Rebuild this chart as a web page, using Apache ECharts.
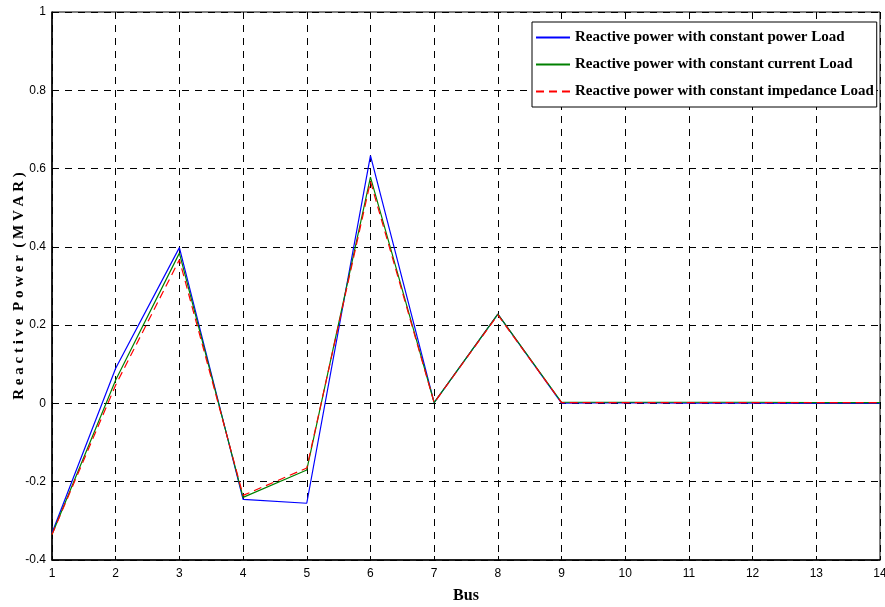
<!DOCTYPE html>
<html>
<head>
<meta charset="utf-8">
<script src="https://cdn.jsdelivr.net/npm/echarts@6/dist/echarts.min.js"></script>
<style>
html, body { margin: 0; padding: 0; background: #fff; }
#chart { width: 885px; height: 607px; }
</style>
</head>
<body>
<div id="chart"></div>
<script>
// bus numbers on x axis
const buses = [1, 2, 3, 4, 5, 6, 7, 8, 9, 10, 11, 12, 13, 14];

// reactive power per bus (MVAR)
const constPower = [-0.331, 0.09, 0.398, -0.245, -0.255, 0.633, 0.002, 0.228, 0.001, 0.002, 0.001, 0.001, 0.000, 0.000];
const constCurrent = [-0.335, 0.06, 0.384, -0.24, -0.17, 0.578, 0.002, 0.228, 0.003, 0.003, 0.003, 0.003, 0.002, 0.002];
const constImpedance = [-0.335, 0.047, 0.367, -0.235, -0.165, 0.567, 0.002, 0.226, 0.002, 0.002, 0.002, 0.002, 0.002, 0.002];

const names = [
    'Reactive power with constant power Load',
    'Reactive power with constant current Load',
    'Reactive power with constant impedance Load'
];

const pairs = function (values) {
    return buses.map(function (b, i) { return [b, values[i]]; });
};

const chart = echarts.init(document.getElementById('chart'));

const tickFont = {
    fontFamily: '"Liberation Sans Narrow", "Liberation Sans", Arial, sans-serif',
    fontSize: 12,
    color: '#000'
};

const titleFont = {
    fontFamily: '"Liberation Serif", "Times New Roman", serif',
    fontWeight: 'bold',
    fontSize: 16,
    color: '#000'
};

chart.setOption({
    animation: false,
    grid: {
        left: 52,
        right: 5,
        top: 12,
        bottom: 47,
        outerBoundsMode: 'none',
        show: true,
        borderColor: '#000',
        borderWidth: 1
    },
    legend: {
        orient: 'vertical',
        left: 532,
        top: 22,
        itemWidth: 34,
        itemHeight: 14,
        itemGap: 12,
        padding: [8, 3, 8, 3],
        borderColor: '#000',
        borderWidth: 1,
        backgroundColor: '#fff',
        itemStyle: { opacity: 0 },
        textStyle: {
            fontFamily: '"Liberation Serif", "Times New Roman", serif',
            fontWeight: 'bold',
            fontSize: 15,
            color: '#000'
        },
        data: names
    },
    xAxis: {
        type: 'value',
        min: 1,
        max: 14,
        interval: 1,
        name: 'Bus',
        nameLocation: 'middle',
        nameGap: 28,
        nameMoveOverlap: false,
        nameTextStyle: titleFont,
        axisLine: { onZero: false, lineStyle: { color: '#000', width: 1.5 } },
        axisTick: { inside: true, length: 4, lineStyle: { color: '#000' } },
        axisLabel: tickFont,
        splitLine: { show: true, lineStyle: { color: '#000', type: [7, 6], width: 1 } }
    },
    yAxis: {
        type: 'value',
        min: -0.4,
        max: 1,
        interval: 0.2,
        name: 'R e a c t i v e  P o w e r  ( M V A R )',
        nameLocation: 'middle',
        nameGap: 25,
        nameMoveOverlap: false,
        nameTextStyle: Object.assign({}, titleFont, { fontSize: 15 }),
        axisLine: { onZero: false, lineStyle: { color: '#000', width: 1.5 } },
        axisTick: { inside: true, length: 4, lineStyle: { color: '#000' } },
        axisLabel: Object.assign({ margin: 6 }, tickFont),
        splitLine: { show: true, lineStyle: { color: '#000', type: [7, 6], width: 1 } }
    },
    series: [
        {
            name: names[0],
            type: 'line',
            symbol: 'none',
            data: pairs(constPower),
            lineStyle: { color: '#0000ff', width: 1.2 },
            itemStyle: { color: '#0000ff' },
            z: 3
        },
        {
            name: names[1],
            type: 'line',
            symbol: 'none',
            data: pairs(constCurrent),
            lineStyle: { color: '#008000', width: 1.2 },
            itemStyle: { color: '#008000' },
            z: 4
        },
        {
            name: names[2],
            type: 'line',
            symbol: 'none',
            data: pairs(constImpedance),
            lineStyle: { color: '#ff0000', width: 1.2, type: [8, 5] },
            itemStyle: { color: '#ff0000' },
            z: 5
        }
    ]
});
</script>
</body>
</html>
